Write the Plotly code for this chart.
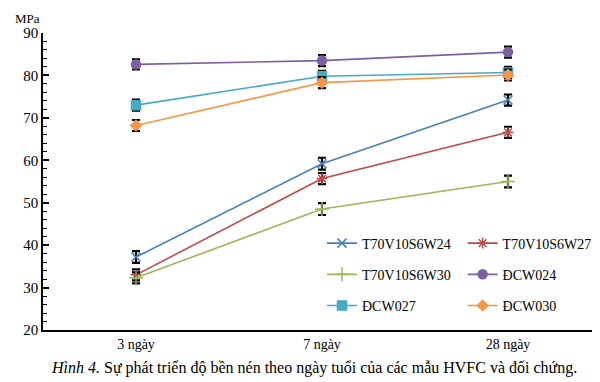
import plotly.graph_objects as go

categories = ["3 ngày", "7 ngày", "28 ngày"]
series_names = ["T70V10S6W24", "T70V10S6W27", "T70V10S6W30", "ĐCW024", "ĐCW027", "ĐCW030"]
w24 = [37.2, 59.2, 74.2]
w27 = [33.0, 55.7, 66.6]
w30 = [32.3, 48.5, 55.0]
dcw024 = [82.6, 83.5, 85.5]
dcw027 = [73.0, 79.8, 80.7]
dcw030 = [68.2, 78.3, 80.1]
err24 = [1.4, 1.4, 1.3]
err27 = [1.3, 1.3, 1.3]
err30 = [1.3, 1.4, 1.4]
err_dcw024 = [1.2, 1.3, 1.3]
err_dcw027 = [1.3, 1.3, 1.3]
err_dcw030 = [1.3, 1.3, 1.3]

values = [w24, w27, w30, dcw024, dcw027, dcw030]
errors = [err24, err27, err30, err_dcw024, err_dcw027, err_dcw030]
colors = ["#4A7EBB", "#BE4B48", "#98B954", "#7D60A0", "#46AAC5", "#F79646"]
symbols = ["x-thin-open", "asterisk-open", "cross-thin-open", "circle", "square", "diamond"]
sizes = [9, 9, 10, 9, 9, 8]
legend_ids = ["legend", "legend2", "legend", "legend2", "legend", "legend2"]

font = "Times New Roman"
fig = go.Figure()
for i, (name, v, e, c, s, sz) in enumerate(zip(series_names, values, errors, colors, symbols, sizes)):
    fig.add_trace(go.Scatter(
        x=categories, y=v, name=name, mode="lines+markers",
        legend=legend_ids[i], legendgroup="g%d" % i,
        line=dict(color=c, width=1.6),
        marker=dict(symbol=s, size=sz, color=c, line=dict(color=c, width=1.5)),
        error_y=dict(type="data", array=e, visible=True, color="black", thickness=2.2, width=4),
    ))

leg_common = dict(yanchor="top", xanchor="left", tracegroupgap=10,
                  font=dict(family=font, size=14, color="black"), bgcolor="rgba(0,0,0,0)")
fig.update_layout(
    width=600, height=382,
    margin=dict(l=35, r=7, t=25, b=60),
    plot_bgcolor="white", paper_bgcolor="white",
    font=dict(family=font, size=13, color="black"),
    showlegend=True,
    legend=dict(x=0.500, y=0.345, **leg_common),
    legend2=dict(x=0.752, y=0.345, **leg_common),
    xaxis=dict(showline=True, linecolor="black", linewidth=1.5, ticks="", showgrid=False,
               tickfont=dict(family=font, size=14), range=[-0.5, 2.5]),
    yaxis=dict(range=[20, 90], dtick=10, showline=True, linecolor="black", linewidth=1.5,
               ticks="inside", ticklen=6, tickwidth=1.5, tickcolor="black", showgrid=False,
               tickfont=dict(family=font, size=15),
               minor=dict(dtick=2, ticks="inside", ticklen=4, tickwidth=1, tickcolor="black")),
    annotations=[
        dict(text="MPa", xref="paper", yref="paper", x=-0.027, y=1.0, xanchor="center", yanchor="bottom",
             yshift=5, showarrow=False, font=dict(family=font, size=13)),
        dict(text="<i>Hình 4.</i> Sự phát triển độ bền nén theo ngày tuổi của các mẫu HVFC và đối chứng.",
             xref="paper", yref="paper", x=0.485, y=-0.09, xanchor="center", yanchor="top",
             showarrow=False, font=dict(family=font, size=16)),
    ],
)

fig.write_html("out.html")
